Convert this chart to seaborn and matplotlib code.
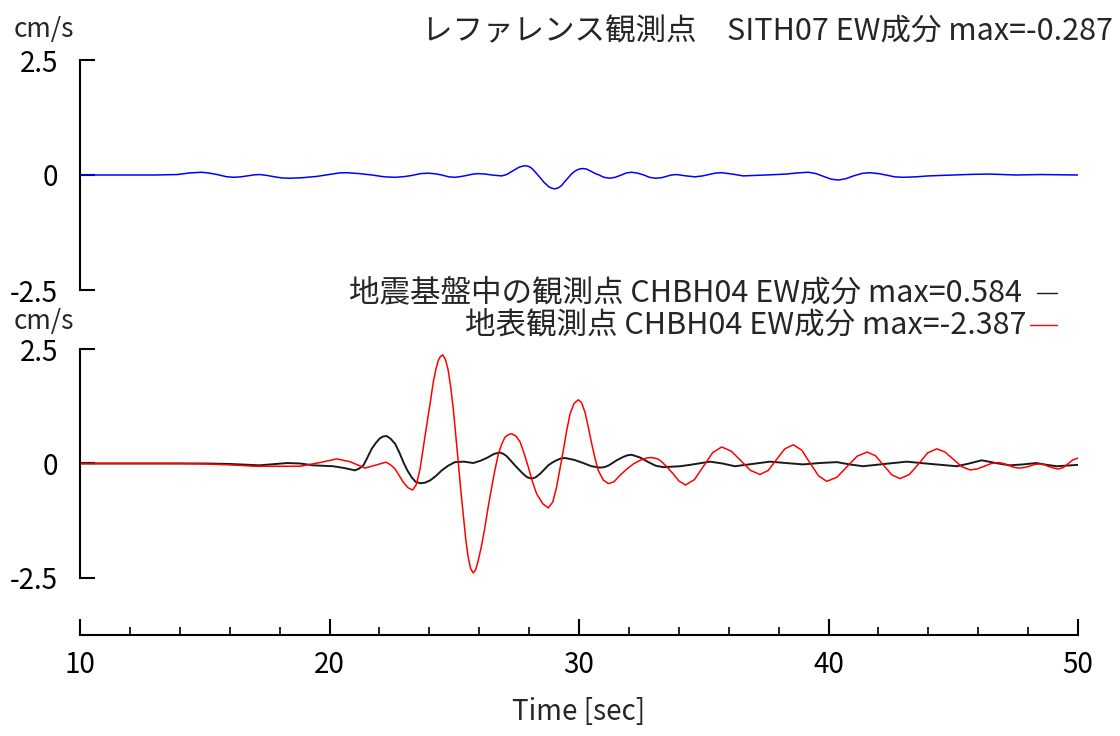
import matplotlib
matplotlib.use("Agg")
import matplotlib.pyplot as plt
import pandas as pd
import seaborn as sns
from matplotlib.ticker import MultipleLocator, FixedLocator
from matplotlib.lines import Line2D

# ---------------- data ----------------
# reference station SITH07 EW (time [s], velocity [cm/s])
ref_pts = [
    (10.0, 0.0), (13.0, 0.0), (13.9, 0.01), (14.4, 0.045), (14.88, 0.06),
    (15.2, 0.04), (15.5, 0.01), (15.85, -0.035), (16.15, -0.05), (16.45, -0.04),
    (16.7, -0.02), (17.0, 0.005), (17.21, 0.01), (17.5, -0.01), (17.8, -0.04),
    (18.1, -0.065), (18.42, -0.07), (18.9, -0.06), (19.5, -0.03), (20.1, 0.02),
    (20.4, 0.045), (20.69, 0.05), (21.2, 0.03), (21.7, 0.0), (22.2, -0.04),
    (22.63, -0.05), (23.0, -0.035), (23.3, -0.01), (23.65, 0.03), (23.96, 0.04),
    (24.25, 0.025), (24.5, 0.0), (24.78, -0.04), (25.03, -0.05), (25.3, -0.03),
    (25.5, -0.01), (25.75, 0.02), (25.96, 0.03), (26.25, 0.02), (26.5, 0.0),
    (26.9, -0.02), (27.1, 0.01), (27.35, 0.09), (27.6, 0.17), (27.72, 0.19),
    (27.84, 0.20), (27.97, 0.19), (28.1, 0.15), (28.22, 0.08), (28.35, 0.0),
    (28.48, -0.08), (28.6, -0.16), (28.8, -0.26), (28.92, -0.29), (29.04, -0.30),
    (29.17, -0.28), (29.3, -0.23), (29.42, -0.15), (29.55, -0.07), (29.68, 0.01),
    (29.8, 0.07), (29.92, 0.11), (30.05, 0.135), (30.17, 0.14), (30.3, 0.13),
    (30.45, 0.09), (30.62, 0.04), (30.8, 0.0), (31.0, -0.05), (31.24, -0.07),
    (31.45, -0.05), (31.7, 0.0), (31.9, 0.045), (32.11, 0.06), (32.35, 0.04),
    (32.6, 0.0), (32.82, -0.05), (33.05, -0.07), (33.3, -0.06), (33.5, -0.03),
    (33.7, 0.0), (33.91, 0.01), (34.3, -0.02), (34.65, -0.04), (34.95, -0.02),
    (35.2, 0.01), (35.45, 0.04), (35.72, 0.05), (36.15, 0.02), (36.58, -0.02),
    (37.0, -0.01), (37.5, 0.0), (38.3, 0.02), (38.75, 0.045), (39.19, 0.06),
    (39.5, 0.03), (39.8, -0.03), (40.1, -0.09), (40.39, -0.11), (40.7, -0.08),
    (41.0, -0.02), (41.35, 0.035), (41.66, 0.05), (42.0, 0.03), (42.3, 0.0),
    (42.65, -0.04), (43.0, -0.05), (43.5, -0.04), (44.0, -0.02), (45.0, 0.0),
    (45.8, 0.015), (46.47, 0.02), (47.0, 0.01), (47.5, 0.0), (48.5, 0.01),
    (50.0, 0.0),
]

# borehole (bedrock) station CHBH04 EW
bed_pts = [
    (10.0, 0.0), (13.0, 0.0), (15.0, 0.0), (16.0, -0.01), (17.2, -0.04),
    (18.3, 0.01), (18.82, 0.0), (19.35, -0.04), (20.15, -0.06), (20.6, -0.10),
    (21.02, -0.15), (21.19, -0.11), (21.36, -0.04), (21.52, 0.13), (21.69, 0.32),
    (21.86, 0.45), (22.02, 0.55), (22.15, 0.59), (22.29, 0.60), (22.45, 0.54),
    (22.63, 0.43), (22.80, 0.24), (22.96, 0.03), (23.12, -0.15), (23.29, -0.30),
    (23.45, -0.40), (23.63, -0.43), (23.82, -0.42), (24.03, -0.37), (24.27, -0.27),
    (24.50, -0.15), (24.75, -0.05), (25.03, 0.03), (25.40, 0.04), (25.76, 0.01),
    (26.05, 0.06), (26.30, 0.12), (26.60, 0.21), (26.83, 0.24), (26.97, 0.21),
    (27.10, 0.16), (27.27, 0.06), (27.43, -0.04), (27.75, -0.22), (27.92, -0.30),
    (28.10, -0.33), (28.27, -0.30), (28.45, -0.22), (28.77, -0.04), (28.93, 0.02),
    (29.10, 0.07), (29.27, 0.11), (29.44, 0.12), (29.80, 0.08), (30.17, 0.01),
    (30.50, -0.06), (30.84, -0.09), (31.02, -0.08), (31.20, -0.04), (31.51, 0.07),
    (31.80, 0.15), (31.95, 0.18), (32.11, 0.19), (32.45, 0.13), (32.78, 0.03),
    (33.08, -0.05), (33.38, -0.08), (34.05, -0.06), (34.45, -0.03), (35.25, 0.04),
    (35.75, 0.0), (36.25, -0.06), (36.95, -0.01), (37.65, 0.04), (38.30, 0.01),
    (38.98, -0.02), (39.65, 0.01), (40.33, 0.03), (40.85, -0.02), (41.38, -0.06),
    (42.25, -0.01), (43.13, 0.04), (44.10, -0.01), (45.14, -0.06), (45.64, 0.0),
    (46.14, 0.07), (46.70, 0.01), (47.27, -0.04), (47.80, -0.02), (48.34, 0.01),
    (48.75, -0.03), (49.15, -0.06), (50.0, -0.03),
]

# surface station CHBH04 EW
sur_pts = [
    (10.0, 0.0), (12.0, 0.0), (14.0, 0.0), (15.0, -0.01), (16.0, -0.03),
    (17.0, -0.06), (18.0, -0.06), (18.82, -0.06), (19.62, 0.02), (20.29, 0.10),
    (20.82, 0.04), (21.42, -0.10), (21.89, -0.03), (22.26, 0.03), (22.45, -0.03),
    (22.63, -0.12), (22.80, -0.27), (22.96, -0.41), (23.15, -0.53), (23.33, -0.58),
    (23.48, -0.46), (23.63, -0.12), (23.76, 0.35), (23.90, 0.85), (24.03, 1.30),
    (24.16, 1.78), (24.26, 2.05), (24.36, 2.25), (24.45, 2.34), (24.54, 2.37),
    (24.65, 2.27), (24.76, 2.03), (24.86, 1.66), (24.96, 1.20), (25.06, 0.62),
    (25.16, 0.04), (25.26, -0.57), (25.36, -1.12), (25.46, -1.65), (25.56, -2.05),
    (25.66, -2.30), (25.76, -2.39), (25.86, -2.32), (25.96, -2.12), (26.10, -1.78),
    (26.23, -1.39), (26.36, -0.95), (26.50, -0.52), (26.63, -0.14), (26.77, 0.21),
    (26.90, 0.42), (27.03, 0.57), (27.17, 0.63), (27.30, 0.65), (27.47, 0.60),
    (27.64, 0.47), (27.80, 0.22), (27.97, -0.08), (28.13, -0.39), (28.30, -0.66),
    (28.55, -0.88), (28.77, -0.97), (28.95, -0.84), (29.10, -0.52), (29.23, -0.14),
    (29.37, 0.28), (29.50, 0.70), (29.64, 1.08), (29.80, 1.31), (29.97, 1.39),
    (30.10, 1.33), (30.24, 1.12), (30.37, 0.80), (30.51, 0.43), (30.64, 0.12),
    (30.77, -0.15), (30.97, -0.36), (31.18, -0.44), (31.40, -0.40), (31.64, -0.26),
    (31.90, -0.13), (32.18, -0.01), (32.45, 0.07), (32.71, 0.12), (32.90, 0.13),
    (33.10, 0.11), (33.25, 0.07), (33.50, -0.06), (33.78, -0.23), (34.00, -0.38),
    (34.27, -0.47), (34.63, -0.35), (35.00, -0.05), (35.36, 0.24), (35.72, 0.36),
    (36.10, 0.27), (36.49, 0.06), (36.87, -0.15), (37.25, -0.24), (37.59, -0.15),
    (37.92, 0.09), (38.25, 0.32), (38.59, 0.41), (38.93, 0.29), (39.26, 0.01),
    (39.60, -0.27), (39.93, -0.39), (40.34, -0.30), (40.74, -0.07), (41.15, 0.16),
    (41.55, 0.25), (41.88, 0.17), (42.21, -0.04), (42.54, -0.25), (42.87, -0.33),
    (43.24, -0.24), (43.61, -0.01), (43.97, 0.23), (44.34, 0.32), (44.67, 0.25),
    (45.01, 0.09), (45.34, -0.07), (45.67, -0.14), (45.96, -0.12), (46.24, -0.06),
    (46.53, 0.0), (46.81, 0.02), (47.01, 0.0), (47.21, -0.04), (47.41, -0.08),
    (47.61, -0.10), (47.83, -0.09), (48.05, -0.06), (48.26, -0.02), (48.48, -0.01),
    (48.66, -0.03), (48.85, -0.07), (49.03, -0.10), (49.21, -0.12), (49.41, -0.09),
    (49.61, 0.0), (49.80, 0.08), (50.0, 0.12),
]

title_top = "レファレンス観測点　SITH07 EW成分 max=-0.287"
label_bed = "地震基盤中の観測点 CHBH04 EW成分 max=0.584"
label_sur = "地表観測点 CHBH04 EW成分 max=-2.387"
unit_label = "cm/s"
x_label = "Time [sec]"
y_ticks = [-2.5, 0, 2.5]
y_ticklabels = ["-2.5", "0", "2.5"]
x_ticks = [10, 20, 30, 40, 50]
x_ticklabels = ["10", "20", "30", "40", "50"]

# ---------------- style ----------------
sns.set_theme(style="ticks")
plt.rcParams['font.family'] = ['Noto Sans CJK JP', 'DejaVu Sans']
FS_TICK = 20
FS_TEXT = 22

W, H = 1120, 736
fig = plt.figure(figsize=(W / 100, H / 100), dpi=100)
fig.patch.set_facecolor("white")


def rect(x0, y_top, x1, y_bot):
    return [x0 / W, 1 - y_bot / H, (x1 - x0) / W, (y_bot - y_top) / H]


ax1 = fig.add_axes(rect(80, 60, 1078, 290))
ax2 = fig.add_axes(rect(80, 349, 1078, 635))


def to_df(pts):
    return pd.DataFrame(pts, columns=["t", "v"])


blue, black, red = "#0000ff", "#1a1a1a", "#ff0000"

sns.lineplot(data=to_df(ref_pts), x="t", y="v", ax=ax1, color=blue, lw=1.1,
             estimator=None, sort=False, legend=False)
sns.lineplot(data=to_df(bed_pts), x="t", y="v", ax=ax2, color=black, lw=1.4,
             estimator=None, sort=False, legend=False)
sns.lineplot(data=to_df(sur_pts), x="t", y="v", ax=ax2, color=red, lw=1.1,
             estimator=None, sort=False, legend=False)

for ax in (ax1, ax2):
    ax.set_facecolor("white")
    ax.set_xlim(10, 50)
    ax.set_xlabel("")
    ax.set_ylabel("")
    for s in ("top", "right"):
        ax.spines[s].set_visible(False)
    ax.spines["left"].set_linewidth(1.5)
    ax.spines["left"].set_color("black")
    ax.spines["left"].set_bounds(-2.5, 2.5)
    ax.yaxis.set_major_locator(FixedLocator(y_ticks))
    ax.set_yticklabels(y_ticklabels)
    ax.tick_params(axis="y", direction="in", length=11, width=1.5,
                   pad=16, labelsize=FS_TICK, colors="black")

ax1.set_ylim(-2.5, 2.5)
ax1.spines["bottom"].set_visible(False)
ax1.set_xticks([])

ax2.set_ylim(-3.745, 2.5)
ax2.spines["bottom"].set_linewidth(1.5)
ax2.spines["bottom"].set_color("black")
ax2.xaxis.set_major_locator(FixedLocator(x_ticks))
ax2.set_xticklabels(x_ticklabels)
ax2.xaxis.set_minor_locator(MultipleLocator(2))
ax2.tick_params(axis="x", which="major", direction="in", length=11.5,
                width=1.5, pad=11, labelsize=FS_TICK, colors="black")
ax2.tick_params(axis="x", which="minor", direction="in", length=6,
                width=1.2, colors="black")
ax2.set_xlabel(x_label, fontsize=FS_TICK, labelpad=12)

# unit labels and title
fig.text(14 / W, 1 - 30 / H, unit_label, fontsize=19, ha="left", va="center")
fig.text(14 / W, 1 - 321 / H, unit_label, fontsize=19, ha="left", va="center")
fig.text(1113 / W, 1 - 32 / H, title_top, fontsize=FS_TEXT, ha="right", va="center")

# legend (right-aligned entries with short line samples)
fig.text(1022 / W, 1 - 293 / H, label_bed, fontsize=FS_TEXT, ha="right", va="center")
fig.text(1026 / W, 1 - 325 / H, label_sur, fontsize=FS_TEXT, ha="right", va="center")
fig.add_artist(Line2D([1037 / W, 1057 / W], [1 - 293 / H] * 2, color=black, lw=1.0))
fig.add_artist(Line2D([1030 / W, 1057 / W], [1 - 325 / H] * 2, color=red, lw=1.0))

fig.savefig("out.png", dpi=100, facecolor="white")
